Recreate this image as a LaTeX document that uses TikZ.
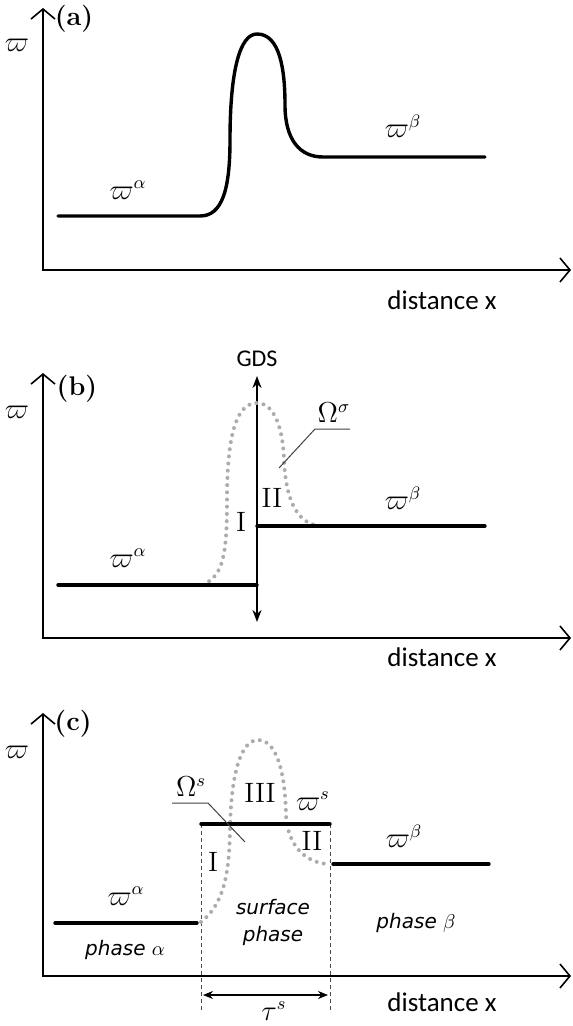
\documentclass[tikz,border=0pt]{standalone}
\usepackage{fontspec}
\newfontfamily\calfont{Carlito}
\newfontfamily\handfont{DejaVu Sans}
\usetikzlibrary{arrows.meta}

\begin{document}
\begin{tikzpicture}[x=0.5pt,y=-0.5pt,
  axis/.style={line width=0.8pt,{Straight Barb[length=5pt,width=12pt]}-{Straight Barb[length=5pt,width=12pt]}},
  prof/.style={line width=1.7pt,line cap=round},
  dotcurve/.style={gray!65,line width=2pt,line cap=round,dash pattern=on 0pt off 3.6pt},
  lead/.style={line width=0.5pt,black!75},
  guide/.style={line width=0.5pt,black!70,dash pattern=on 2pt off 1.5pt},
  lbl/.style={font=\fontsize{13.5}{15}\selectfont,inner sep=0pt},
  tag/.style={font=\fontsize{13.5}{15}\selectfont\bfseries,inner sep=0pt},
  dist/.style={font=\calfont\fontsize{13.5}{15}\selectfont,inner sep=0pt},
  phase/.style={font=\handfont\itshape\fontsize{10}{12.5}\selectfont,inner sep=0pt,align=center},
  roman/.style={font=\fontsize{14}{16}\selectfont,inner sep=0pt}
]
  \useasboundingbox (0,0) rectangle (572,1026);

  % Panel (a)
  \coordinate (a-o) at (43,270);
  \coordinate (a-y) at (43,8);
  \coordinate (a-x) at (571,270);
  \draw[axis] (a-y) -- (a-o) -- (a-x);
  \node[tag]  (a-tag)  at (74,19)   {(a)};
  \node[lbl]  (a-w)    at (17,45)   {$\varpi$};
  \node[dist] (a-dist) at (442,300) {distance x};
  \draw[prof] (58,216) -- (200,216)
    .. controls (222,216) and (230,190) .. (230,140)
    .. controls (230,70) and (240,34) .. (257,34)
    .. controls (280,34) and (285,70) .. (285,105)
    .. controls (285,140) and (300,157) .. (323,157) -- (485,157);
  \node[lbl] (a-wa) at (128,190) {$\varpi^{\alpha}$};
  \node[lbl] (a-wb) at (403,126) {$\varpi^{\beta}$};

  % Panel (b)
  \coordinate (b-o) at (43,638);
  \coordinate (b-y) at (43,373);
  \coordinate (b-x) at (571,638);
  \draw[axis] (b-y) -- (b-o) -- (b-x);
  \node[tag]  (b-tag)  at (77,389)  {(b)};
  \node[lbl]  (b-w)    at (17,412)  {$\varpi$};
  \node[dist] (b-dist) at (442,657) {distance x};
  \node[font=\calfont\fontsize{12}{14}\selectfont,inner sep=0pt] (gds) at (257,359) {GDS};
  \coordinate (gds-top) at (257,376);
  \coordinate (gds-bot) at (257,622);
  \draw[line width=1pt,{Stealth[length=6pt,width=4.5pt]}-{Stealth[length=6pt,width=4.5pt]}] (gds-top) -- (gds-bot);
  \draw[dotcurve] (203,585)
    .. controls (222,575) and (227,560) .. (227,500)
    .. controls (227,430) and (238,403) .. (257,403)
    .. controls (275,403) and (283,430) .. (284,460)
    .. controls (286,505) and (300,526) .. (323,526);
  \draw[prof] (58,585) -- (257,585);
  \draw[prof] (257,526) -- (485,526);
  \node[lbl] (b-wa) at (128,558) {$\varpi^{\alpha}$};
  \node[lbl] (b-wb) at (403,498) {$\varpi^{\beta}$};
  \node[lbl] (b-om) at (334,413) {$\Omega^{\sigma}$};
  \coordinate (b-l1) at (350,429);
  \coordinate (b-l2) at (315,429);
  \coordinate (b-l3) at (279,468);
  \draw[lead] (b-l1) -- (b-l2) -- (b-l3);
  \node[roman] (b-i)  at (241,522) {I};
  \node[roman] (b-ii) at (272,498) {II};

  % Panel (c)
  \coordinate (c-o) at (43,976);
  \coordinate (c-y) at (43,713);
  \coordinate (c-x) at (571,976);
  \draw[axis] (c-y) -- (c-o) -- (c-x);
  \node[tag]  (c-tag)  at (73,724)   {(c)};
  \node[lbl]  (c-w)    at (17,752)   {$\varpi$};
  \node[dist] (c-dist) at (442,1002) {distance x};
  \coordinate (c-g1) at (201,824);
  \coordinate (c-g2) at (330,824);
  \coordinate (c-g1b) at (201,1010);
  \coordinate (c-g2b) at (330,1010);
  \draw[guide] (c-g1) -- (c-g1b);
  \draw[guide] (c-g2) -- (c-g2b);
  \draw[dotcurve] (201,922)
    .. controls (222,905) and (229,880) .. (230,830)
    .. controls (231,770) and (242,740) .. (258,740)
    .. controls (276,740) and (285,770) .. (286,815)
    .. controls (288,850) and (310,864) .. (330,864);
  \draw[prof] (55,923) -- (197,923);
  \draw[prof] (c-g1) -- (c-g2);
  \draw[prof] (333,864) -- (489,864);
  \coordinate (c-t1) at (203,995);
  \coordinate (c-t2) at (328,995);
  \draw[line width=0.6pt,{Stealth[length=5pt,width=4pt]}-{Stealth[length=5pt,width=4pt]}] (c-t1) -- (c-t2);
  \node[lbl] (c-tau) at (274,1011) {$\tau^{s}$};
  \node[lbl] (c-om) at (191,787) {$\Omega^{s}$};
  \coordinate (c-l1) at (172,803);
  \coordinate (c-l2) at (208,803);
  \coordinate (c-l3) at (245,842);
  \draw[lead] (c-l1) -- (c-l2) -- (c-l3);
  \node[roman] (c-iii) at (260,793) {III};
  \node[lbl]   (c-ws)  at (313,801) {$\varpi^{s}$};
  \node[roman] (c-ii)  at (312,841) {II};
  \node[roman] (c-i)   at (213,862) {I};
  \node[lbl] (c-wa) at (126,896) {$\varpi^{\alpha}$};
  \node[lbl] (c-wb) at (404,836) {$\varpi^{\beta}$};
  \node[phase] (c-pa) at (125,950) {phase $\alpha$};
  \node[phase] (c-ps) at (273,922) {surface\\[1pt]phase};
  \node[phase] (c-pb) at (416,923) {phase $\beta$};
\end{tikzpicture}
\end{document}
